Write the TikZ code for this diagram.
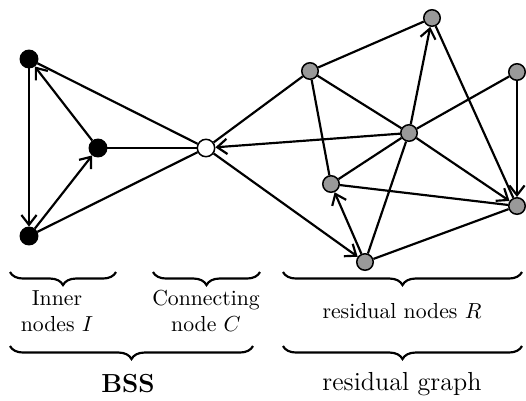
\documentclass[tikz,border=0pt]{standalone}
\usepackage{amsmath}
\usetikzlibrary{arrows.meta, decorations.pathreplacing}
\tikzset{
    inner/.style={circle, draw, line width=0.7pt, fill=black, minimum size=8pt, inner sep=0pt},
    connect/.style={circle, draw, line width=0.7pt, fill=white, minimum size=8pt, inner sep=0pt},
    resid/.style={circle, draw, line width=0.7pt, fill=black!40, minimum size=7.6pt, inner sep=0pt},
    link/.style={line width=1pt},
    arrow/.style={-{Straight Barb[length=4.5pt, width=7pt]}, line width=1pt},
    brace/.style={decorate, decoration={brace, mirror, amplitude=6pt}, line width=1pt},
    lbl/.style={align=center, font=\normalsize},
}

\begin{document}
\begin{tikzpicture}[x=0.46pt, y=-0.46pt]
        \useasboundingbox (0,0) rectangle (526,400);
        % BSS nodes
        \node [inner] (i1) at (29,59) {};
        \node [inner] (i2) at (98,148) {};
        \node [inner] (i3) at (29,236) {};
        \node [connect] (c) at (206,148) {};

        % residual nodes
        \node [resid] (r1) at (432,18) {};
        \node [resid] (r2) at (310,71) {};
        \node [resid] (r3) at (517,72) {};
        \node [resid] (r4) at (409,133) {};
        \node [resid] (r5) at (331,184) {};
        \node [resid] (r6) at (517,206) {};
        \node [resid] (r7) at (365,262) {};

        % Edges
        \draw [link] (i1) -- (c);
        \draw [link] (i2) -- (c);
        \draw [link] (i3) -- (c);
        \draw [arrow] (i2) -- (i1);
        \draw [arrow] (i1) -- (i3);
        \draw [arrow] (i3) -- (i2);
        \draw [link] (c) -- (r2);
        \draw [arrow] (r4) -- (c);
        \draw [arrow] (c) -- (r7);
        \draw [link] (r2) -- (r1);
        \draw [link] (r2) -- (r4);
        \draw [link] (r2) -- (r5);
        \draw [arrow] (r4) -- (r1);
        \draw [link] (r1) -- (r6);
        \draw [link] (r3) -- (r4);
        \draw [arrow] (r3) -- (r6);
        \draw [arrow] (r4) -- (r6);
        \draw [link] (r4) -- (r5);
        \draw [link] (r4) -- (r7);
        \draw [link] (r5) -- (r6);
        \draw [arrow] (r7) -- (r5);
        \draw [link] (r7) -- (r6);

        % Braces and labels
        \draw [brace] (10,272) -- (116,272);
        \draw [brace] (153,272) -- (260,272);
        \draw [brace] (283,272) -- (522,272);
        \node [lbl] (inl) at (57,311) {Inner\\nodes $I$};
        \node [lbl] (cnl) at (206,311) {Connecting\\node $C$};
        \node [lbl] (rnl) at (402,311) {residual nodes $R$};
        \draw [brace] (10,346) -- (253,346);
        \draw [brace] (283,346) -- (522,346);
        \node [lbl, font=\large\bfseries] (bss) at (128,384) {BSS};
        \node [lbl, font=\large] (rg) at (402,384) {residual graph};
    \end{tikzpicture}
\end{document}
